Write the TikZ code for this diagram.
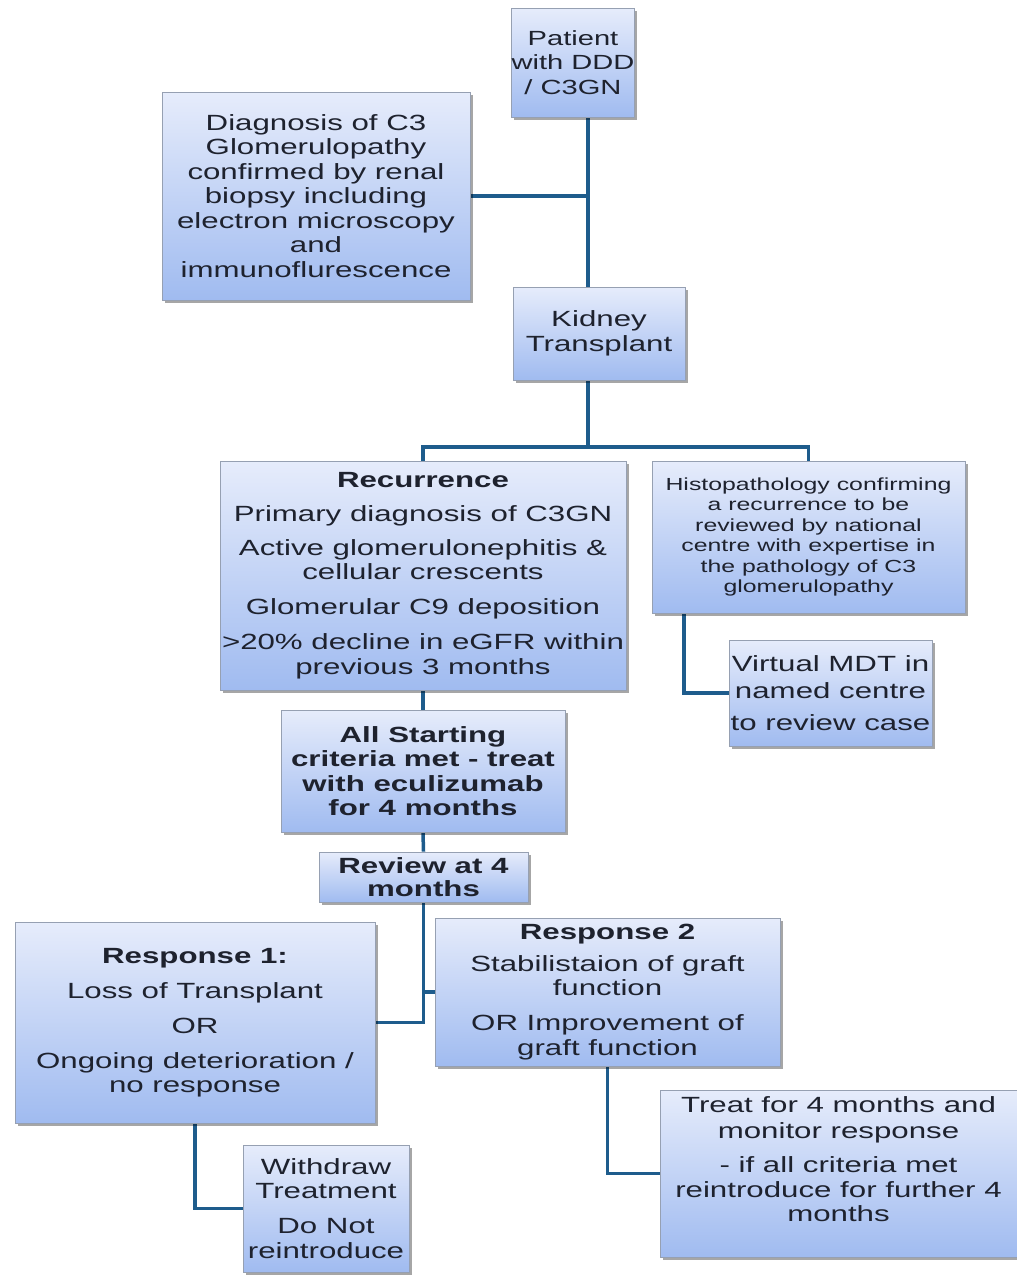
\documentclass[tikz,border=0pt]{standalone}
\usepackage{fontspec}
\setmainfont[FakeStretch=1.42]{Liberation Sans}
\usetikzlibrary{shadows,backgrounds,calc}
\definecolor{boxtop}{RGB}{230,236,251}
\definecolor{boxbot}{RGB}{160,187,240}
\definecolor{boxline}{RGB}{150,160,178}
\definecolor{txtc}{RGB}{30,34,46}
\definecolor{connblue}{RGB}{30,92,140}
\begin{document}
\begin{tikzpicture}[x=1pt,y=-1pt,
  box/.style={draw=boxline, line width=0.8pt, top color=boxtop, bottom color=boxbot,
    drop shadow={shadow xshift=2.5pt,shadow yshift=-2.5pt,fill=black,opacity=0.35},
    align=center, text=txtc, inner sep=0pt, font=\fontsize{22}{24.5}\selectfont},
  smalltext/.style={font=\fontsize{17.5}{20.4}\selectfont},
  connector/.style={draw=connblue, line width=3.5pt}]
\useasboundingbox (0,0) rectangle (1017,1275);

\node[box, font=\fontsize{20.5}{24.5}\selectfont, minimum width=116pt, minimum height=109pt] (pat) at (573,62.5)
  {Patient\\with DDD\\/ C3GN};
\node[box, minimum width=308pt, minimum height=208pt] (diag) at (316,196)
  {Diagnosis of C3\\Glomerulopathy\\confirmed by renal\\biopsy including\\electron microscopy\\and\\immunoflurescence};
\node[box, minimum width=172pt, minimum height=93pt] (kid) at (599,333.5)
  {Kidney\\Transplant};
\node[box, minimum width=406pt, minimum height=229pt] (rec) at (423,575.5)
  {\textbf{Recurrence}\\[9.5pt]Primary diagnosis of C3GN\\[9.5pt]Active glomerulonephitis \&\\cellular crescents\\[10.5pt]Glomerular C9 deposition\\[10.5pt]>20\% decline in eGFR within\\previous 3 months};
\node[box, smalltext, minimum width=313pt, minimum height=152pt] (histo) at (808.5,537)
  {Histopathology confirming\\a recurrence to be\\reviewed by national\\centre with expertise in\\the pathology of C3\\glomerulopathy};
\node[box, minimum width=203pt, minimum height=106pt] (mdt) at (830.5,693)
  {Virtual MDT in\\[2.5pt]named centre\\[7.5pt]to review case};
\node[box, font=\fontsize{22}{24.3}\selectfont\bfseries, minimum width=284pt, minimum height=122pt] (start) at (423,771)
  {All Starting\\criteria met - treat\\with eculizumab\\for 4 months};
\node[box, font=\fontsize{22}{23}\selectfont\bfseries, minimum width=209pt, minimum height=50pt] (rev) at (423.5,877)
  {Review at 4\\months};
\node[box, minimum width=360pt, minimum height=201pt] (r1) at (195,1022.5)
  {\textbf{Response 1:}\\[10.5pt]Loss of Transplant\\[10.5pt]OR\\[10.5pt]Ongoing deterioration /\\no response};
\node[box, minimum width=345pt, minimum height=148pt] (r2) at (607.5,992)
  {\textbf{Response 2}\\[7.5pt]Stabilistaion of graft\\function\\[10.5pt]OR Improvement of\\graft function};
\node[box, minimum width=166pt, minimum height=127pt] (wd) at (326,1208.5)
  {Withdraw\\Treatment\\[10.5pt]Do Not\\reintroduce};
\node[box, text depth=28pt, minimum width=357pt, minimum height=167pt] (treat) at (838.5,1173.5)
  {Treat for 4 months and\\[1.5pt]monitor response\\[9.5pt]- if all criteria met\\reintroduce for further 4\\months};

\coordinate (trunk) at (588,0);
\coordinate (bus) at (0,447);
\coordinate (histox) at (684,0);

\begin{scope}[on background layer]
\fill[white] (0,0) rectangle (1017,1275);
\draw[connector] (pat.south -| trunk) -- (kid.north -| trunk);
\draw[connector] (diag.east) -- (diag.east -| trunk);
\draw[connector] (kid.south -| trunk) -- (bus -| trunk);
\draw[connector] (rec.north) -- (rec.north |- bus) -- (histo.north |- bus) -- (histo.north);
\draw[connector] (histo.south -| histox) |- (mdt.west);
\draw[connector] (rec.south) -- (start.north);
\draw[connector] (start.south) -- (rev.north);
\draw[connector] (rev.south) |- (r1.east);
\draw[connector] (r2.west) -- (r2.west -| rev.south);
\draw[connector] (r1.south) |- (wd.west);
\draw[connector] (r2.south) |- (treat.west);
\end{scope}
\end{tikzpicture}
\end{document}
